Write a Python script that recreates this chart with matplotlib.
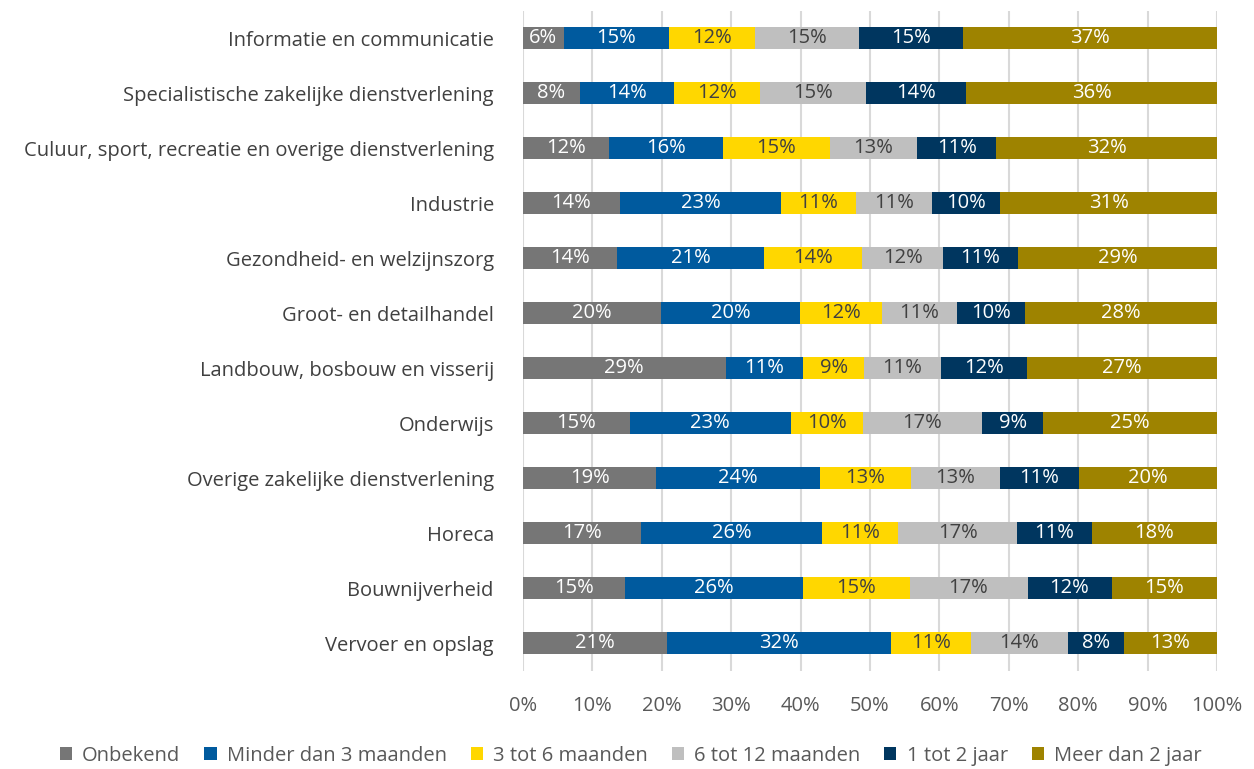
import numpy as np
import matplotlib
matplotlib.use("Agg")
import matplotlib.pyplot as plt

# === DATA ===
sectors = [
    "Informatie en communicatie",
    "Specialistische zakelijke dienstverlening",
    "Culuur, sport, recreatie en overige dienstverlening",
    "Industrie",
    "Gezondheid- en welzijnszorg",
    "Groot- en detailhandel",
    "Landbouw, bosbouw en visserij",
    "Onderwijs",
    "Overige zakelijke dienstverlening",
    "Horeca",
    "Bouwnijverheid",
    "Vervoer en opslag",
]
series_names = ["Onbekend", "Minder dan 3 maanden", "3 tot 6 maanden",
                "6 tot 12 maanden", "1 tot 2 jaar", "Meer dan 2 jaar"]

onbekend  = [5.9, 8.2, 12.4, 14.0, 13.6, 19.9, 29.2, 15.4, 19.2, 17.0, 14.7, 20.7]
minder_3m = [15.1, 13.6, 16.4, 23.2, 21.2, 20.0, 11.2, 23.2, 23.6, 26.1, 25.6, 32.4]
m3_tot_6  = [12.4, 12.4, 15.4, 10.8, 14.1, 11.8, 8.8, 10.4, 13.1, 11.0, 15.4, 11.4]
m6_tot_12 = [15.0, 15.3, 12.6, 11.0, 11.6, 10.8, 11.0, 17.1, 12.8, 17.1, 17.0, 14.1]
j1_tot_2  = [15.0, 14.4, 11.4, 9.8, 10.8, 9.8, 12.4, 8.9, 11.4, 10.8, 12.1, 8.0]
meer_2j   = [36.6, 36.2, 31.8, 31.2, 28.7, 27.7, 27.4, 25.0, 19.9, 18.0, 15.2, 13.4]

colors = ["#767676", "#005A9E", "#FFD700", "#BFBFBF", "#00365F", "#9E8300"]
label_colors = ["white", "white", "#404040", "#404040", "white", "white"]

plt.rcParams['font.family'] = ['Open Sans', 'DejaVu Sans']
FS = 14.5

fig = plt.figure(figsize=(12.54, 7.69), dpi=100)
ax = fig.add_axes([0.417, 0.128, 0.5535, 0.858])

all_series = [onbekend, minder_3m, m3_tot_6, m6_tot_12, j1_tot_2, meer_2j]
y = np.arange(len(sectors))
left = np.zeros(len(sectors))
for name, vals, col, lc in zip(series_names, all_series, colors, label_colors):
    vals = np.array(vals)
    ax.barh(y, vals, left=left, height=0.4, color=col, label=name, zorder=3)
    for yi, (l, v) in enumerate(zip(left, vals)):
        ax.text(l + v / 2, yi, f"{round(v):.0f}%", ha="center", va="center",
                color=lc, fontsize=FS, zorder=4)
    left += vals

ax.set_xlim(0, 100)
ax.set_ylim(len(sectors) - 0.5, -0.5)
ax.set_yticks(y)
ax.set_yticklabels(sectors, fontsize=FS, color="#404040")
ax.set_xticks(np.arange(0, 101, 10))
ax.set_xticklabels([f"{v}%" for v in range(0, 101, 10)], fontsize=FS,
                   color="#595959")
ax.tick_params(axis="both", length=0)
ax.tick_params(axis="x", pad=18)
ax.tick_params(axis="y", pad=21)
ax.grid(axis="x", color="#D9D9D9", linewidth=1.5, zorder=0)
for s in ax.spines.values():
    s.set_visible(False)

leg = fig.legend(loc="center", bbox_to_anchor=(0.503, 0.017), ncol=6, frameon=False,
                 fontsize=FS, handlelength=0.6, handleheight=0.6,
                 handletextpad=0.5, columnspacing=1.2)
for t in leg.get_texts():
    t.set_color("#595959")

fig.savefig("out.png", dpi=100)
